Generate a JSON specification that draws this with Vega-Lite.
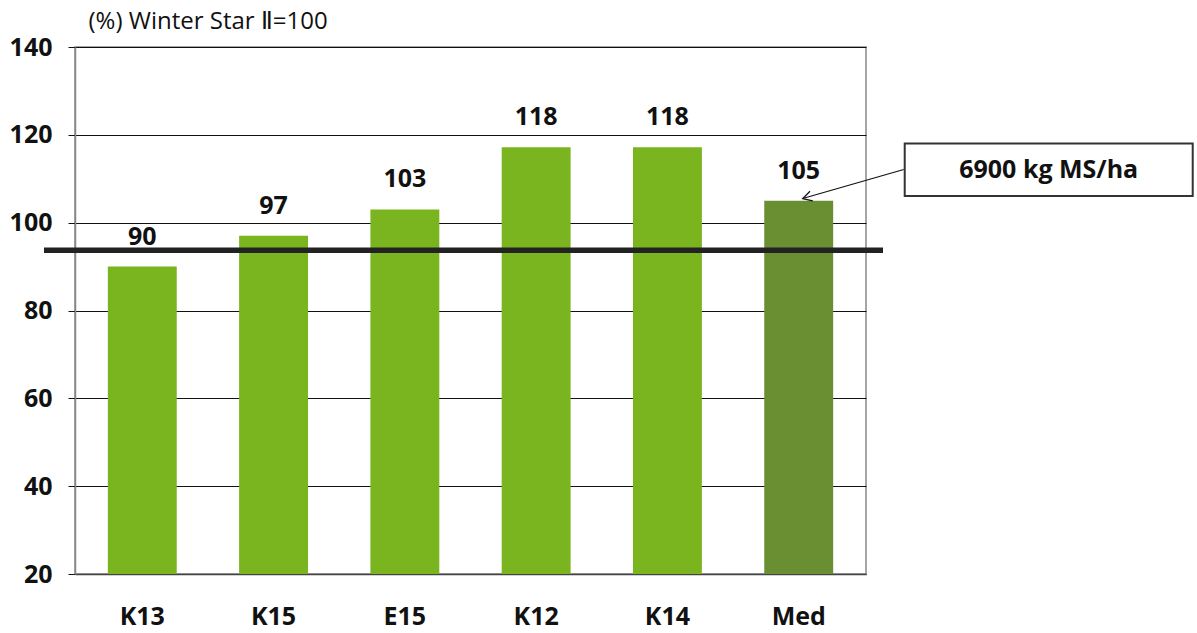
{
  "$schema": "https://vega.github.io/schema/vega-lite/v6.json",
  "autosize": {"type": "none"},
  "padding": {"left": 75, "top": 47, "right": 331, "bottom": 59},
  "width": 791,
  "height": 527,
  "background": "white",
  "config": {
    "font": "Open Sans",
    "view": {"stroke": "#888888", "strokeWidth": 1.5}
  },
  "datasets": {
    "bars": [
      {"cultivar": "K13", "value": 90, "label": "90", "kind": "line"},
      {"cultivar": "K15", "value": 97, "label": "97", "kind": "line"},
      {"cultivar": "E15", "value": 103, "label": "103", "kind": "line"},
      {"cultivar": "K12", "value": 117.2, "label": "118", "kind": "line"},
      {"cultivar": "K14", "value": 117.2, "label": "118", "kind": "line"},
      {"cultivar": "Med", "value": 105, "label": "105", "kind": "mean"}
    ],
    "note": [
      {"cultivar": "Med", "text": "6900 kg MS/ha", "top": 118, "bottom": 106.1, "mid": 112.1, "tip": 105.5}
    ],
    "ref": [{"level": 93.7}]
  },
  "layer": [
    {
      "data": {"name": "bars"},
      "mark": {"type": "bar"},
      "encoding": {
        "x": {
          "field": "cultivar", "type": "nominal", "sort": null,
          "scale": {"paddingInner": 0.475, "paddingOuter": 0.25},
          "axis": {
            "title": null, "labelAngle": 0, "ticks": false,
            "labelFont": "Open Sans", "labelFontWeight": "bold", "labelFontSize": 25,
            "labelColor": "#111111", "labelPadding": 30,
            "domainColor": "#444444", "domainWidth": 1.5
          }
        },
        "y": {
          "field": "value", "type": "quantitative",
          "scale": {"domain": [20, 140], "nice": false, "zero": false},
          "axis": {
            "values": [20, 40, 60, 80, 100, 120, 140],
            "title": "(%) Winter Star Ⅱ=100",
            "titleAngle": 0, "titleAlign": "left", "titleBaseline": "alphabetic",
            "titleX": 13, "titleY": -19,
            "titleFont": "Open Sans", "titleFontWeight": "normal", "titleFontSize": 24,
            "titleColor": "#111111",
            "labelFont": "Open Sans", "labelFontWeight": "bold", "labelFontSize": 25,
            "labelColor": "#111111", "labelPadding": 16,
            "tickColor": "#111111", "tickSize": 7, "tickWidth": 1,
            "grid": true, "gridColor": "#111111", "gridWidth": 1, "gridOpacity": 1,
            "domainColor": "#888888", "domainWidth": 1.5
          }
        },
        "y2": {"datum": 20},
        "color": {
          "field": "kind", "type": "nominal",
          "scale": {"domain": ["line", "mean"], "range": ["#7AB51F", "#6A8E32"]},
          "legend": null
        }
      }
    },
    {
      "data": {"name": "bars"},
      "mark": {"type": "text", "baseline": "alphabetic", "dy": -22, "fontSize": 25, "fontWeight": "bold", "font": "Open Sans", "color": "#111111"},
      "encoding": {
        "x": {"field": "cultivar", "type": "nominal", "sort": null},
        "y": {"field": "value", "type": "quantitative"},
        "text": {"field": "label"}
      }
    },
    {
      "data": {"name": "ref"},
      "mark": {"type": "rule", "color": "#222222", "strokeWidth": 5.5, "xOffset": -31, "x2Offset": 17},
      "encoding": {
        "x": {"value": 0},
        "x2": {"value": {"expr": "width"}},
        "y": {"field": "level", "type": "quantitative"}
      }
    },
    {
      "data": {"name": "note"},
      "mark": {"type": "rule", "color": "#111111", "strokeWidth": 1.2, "xOffset": 4, "x2Offset": 105},
      "encoding": {
        "x": {"field": "cultivar", "type": "nominal", "sort": null},
        "x2": {"field": "cultivar"},
        "y": {"field": "tip", "type": "quantitative"},
        "y2": {"field": "mid"}
      }
    },
    {
      "data": {"name": "note"},
      "mark": {"type": "point", "shape": "M1,-0.55 L0,0 L1,0.55", "filled": false, "stroke": "#111111", "strokeWidth": 1.3, "size": 324, "angle": 344, "xOffset": 4, "opacity": 1},
      "encoding": {
        "x": {"field": "cultivar", "type": "nominal", "sort": null},
        "y": {"field": "tip", "type": "quantitative"}
      }
    },
    {
      "data": {"name": "note"},
      "mark": {"type": "bar", "width": 288, "xOffset": 250, "fill": "white", "stroke": "#333333", "strokeWidth": 2},
      "encoding": {
        "x": {"field": "cultivar", "type": "nominal", "sort": null},
        "y": {"field": "top", "type": "quantitative"},
        "y2": {"field": "bottom"}
      }
    },
    {
      "data": {"name": "note"},
      "mark": {"type": "text", "dx": 250, "align": "center", "baseline": "middle", "fontSize": 25, "fontWeight": "bold", "font": "Open Sans", "color": "#111111"},
      "encoding": {
        "x": {"field": "cultivar", "type": "nominal", "sort": null},
        "y": {"field": "mid", "type": "quantitative"},
        "text": {"field": "text"}
      }
    }
  ]
}
